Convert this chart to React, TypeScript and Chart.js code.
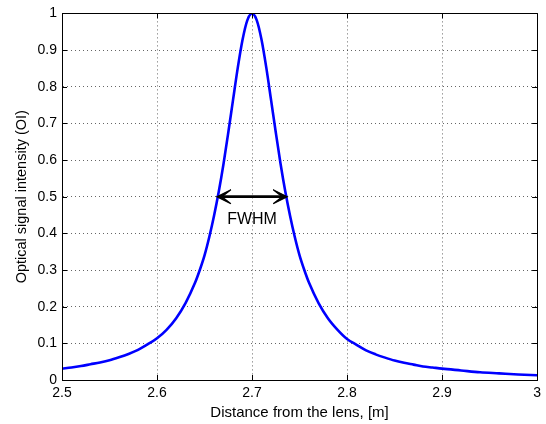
import React, { useEffect, useRef } from "react";
import { Chart, registerables } from "chart.js";

Chart.register(...registerables);

// Values
const distance = [
  2.5, 2.51, 2.52, 2.53, 2.54, 2.55, 2.56, 2.57, 2.58, 2.59, 2.6, 2.61, 2.62,
  2.63, 2.64, 2.645, 2.65, 2.655, 2.66, 2.665, 2.67, 2.675, 2.68, 2.685, 2.69,
  2.695, 2.7, 2.705, 2.71, 2.715, 2.72, 2.725, 2.73, 2.735, 2.74, 2.745, 2.75,
  2.755, 2.76, 2.77, 2.78, 2.79, 2.8, 2.81, 2.82, 2.83, 2.84, 2.85, 2.86, 2.87,
  2.88, 2.89, 2.9, 2.92, 2.94, 2.96, 2.98, 3.0,
];
const intensity = [
  0.031, 0.034, 0.038, 0.043, 0.048, 0.054, 0.062, 0.071, 0.082, 0.097, 0.114,
  0.137, 0.168, 0.21, 0.265, 0.3, 0.34, 0.39, 0.448, 0.514, 0.59, 0.675, 0.764,
  0.852, 0.928, 0.981, 1.0, 0.981, 0.928, 0.852, 0.764, 0.675, 0.59, 0.514,
  0.448, 0.39, 0.34, 0.3, 0.265, 0.21, 0.168, 0.137, 0.112, 0.096, 0.081, 0.07,
  0.061, 0.053, 0.047, 0.042, 0.037, 0.034, 0.031, 0.026, 0.021, 0.018, 0.015,
  0.0128,
];

const fwhmX = [2.663, 2.737];
const fwhmY = 0.5;
const fwhmLabel = "FWHM";
const fwhmLabelX = 2.7;
const fwhmLabelY = 0.438;

const xRange = [2.5, 3.0];
const yRange = [0, 1];
const tickStep = [0.1, 0.1];

const xTitle = "Distance from the lens, [m]";
const yTitle = "Optical signal intensity (OI)";

const FONT = '"Liberation Sans", Arial, Helvetica, sans-serif';

const fmt = (v: number) => String(Number(v.toFixed(2)));

const decorPlugin = {
  id: "decor",
  afterDraw(chart: any) {
    const { ctx, chartArea: a, scales } = chart;
    const xs = scales.x;
    const ys = scales.y;
    ctx.save();
    // box
    ctx.strokeStyle = "#000";
    ctx.lineWidth = 1;
    ctx.beginPath();
    ctx.rect(Math.round(a.left) + 0.5, Math.round(a.top) + 0.5, Math.round(a.right - a.left), Math.round(a.bottom - a.top));
    ctx.stroke();
    // inward ticks
    const tl = 5;
    ctx.beginPath();
    xs.ticks.forEach((t: any) => {
      const px = Math.round(xs.getPixelForValue(t.value)) + 0.5;
      ctx.moveTo(px, a.bottom);
      ctx.lineTo(px, a.bottom - tl);
      ctx.moveTo(px, a.top);
      ctx.lineTo(px, a.top + tl);
    });
    ys.ticks.forEach((t: any) => {
      const py = Math.round(ys.getPixelForValue(t.value)) + 0.5;
      ctx.moveTo(a.left, py);
      ctx.lineTo(a.left + tl, py);
      ctx.moveTo(a.right, py);
      ctx.lineTo(a.right - tl, py);
    });
    ctx.stroke();

    // arrow heads
    const yA = ys.getPixelForValue(fwhmY);
    const x0 = xs.getPixelForValue(fwhmX[0]);
    const x1 = xs.getPixelForValue(fwhmX[1]);
    const L = 14, W = 7, N = 5;
    ctx.fillStyle = "#000";
    ctx.strokeStyle = "#000";
    ctx.lineWidth = 1.2;
    ctx.lineJoin = "miter";
    ctx.beginPath();
    ctx.moveTo(x0, yA);
    ctx.lineTo(x0 + L, yA - W);
    ctx.lineTo(x0 + N, yA);
    ctx.lineTo(x0 + L, yA + W);
    ctx.closePath();
    ctx.moveTo(x1, yA);
    ctx.lineTo(x1 - L, yA - W);
    ctx.lineTo(x1 - N, yA);
    ctx.lineTo(x1 - L, yA + W);
    ctx.closePath();
    ctx.fill();
    ctx.stroke();

    // FWHM label
    ctx.fillStyle = "#000";
    ctx.font = `16px ${FONT}`;
    ctx.textAlign = "center";
    ctx.textBaseline = "middle";
    ctx.fillText(fwhmLabel, xs.getPixelForValue(fwhmLabelX), ys.getPixelForValue(fwhmLabelY));

    // axis titles
    ctx.font = `15px ${FONT}`;
    ctx.textBaseline = "alphabetic";
    ctx.fillText(xTitle, (a.left + a.right) / 2, 417);
    ctx.translate(26, (a.top + a.bottom) / 2);
    ctx.rotate(-Math.PI / 2);
    ctx.font = `14.5px ${FONT}`;
    ctx.fillText(yTitle, 0, 0);
    ctx.restore();
  },
};

export default function App() {
  const ref = useRef<HTMLCanvasElement | null>(null);
  useEffect(() => {
    if (!ref.current) return;
    const chart = new Chart(ref.current, {
      type: "line",
      data: {
        datasets: [
          {
            data: distance.map((x, i) => ({ x, y: intensity[i] })),
            borderColor: "#0000ff",
            borderWidth: 2.6,
            pointRadius: 0,
            cubicInterpolationMode: "monotone",
            fill: false,
          },
          {
            data: fwhmX.map((x) => ({ x, y: fwhmY })),
            borderColor: "#000",
            borderWidth: 2.8,
            pointRadius: 0,
            fill: false,
          },
        ],
      },
      options: {
        animation: false,
        responsive: false,
        devicePixelRatio: 1,
        layout: { padding: { left: 0, right: 7, top: 9, bottom: 0 } },
        plugins: { legend: { display: false }, tooltip: { enabled: false } },
        scales: {
          x: {
            type: "linear",
            min: xRange[0],
            max: xRange[1],
            afterFit: (s: any) => {
              s.height = 44;
            },
            ticks: {
              stepSize: tickStep[0],
              autoSkip: false,
              maxRotation: 0,
              padding: 5,
              color: "#000",
              font: { family: FONT, size: 14 },
              callback: (v: any) => fmt(Number(v)),
            },
            grid: { color: "rgba(0,0,0,0.6)", lineWidth: 1, drawTicks: false },
            border: { display: true, color: "#000", width: 1, dash: [1, 3] },
          },
          y: {
            type: "linear",
            min: yRange[0],
            max: yRange[1],
            afterFit: (s: any) => {
              s.width = 62;
            },
            ticks: {
              stepSize: tickStep[1],
              autoSkip: false,
              padding: 5,
              color: "#000",
              font: { family: FONT, size: 14 },
              callback: (v: any) => fmt(Number(v)),
            },
            grid: { color: "rgba(0,0,0,0.6)", lineWidth: 1, drawTicks: false },
            border: { display: true, color: "#000", width: 1, dash: [1, 3] },
          },
        },
      },
      plugins: [decorPlugin],
    } as any);
    return () => chart.destroy();
  }, []);
  return (
    <div style={{ position: "absolute", left: 0, top: 0, width: 546, height: 424, background: "#fff" }}>
      <canvas ref={ref} width={546} height={424} style={{ display: "block", width: 546, height: 424 }} />
    </div>
  );
}
